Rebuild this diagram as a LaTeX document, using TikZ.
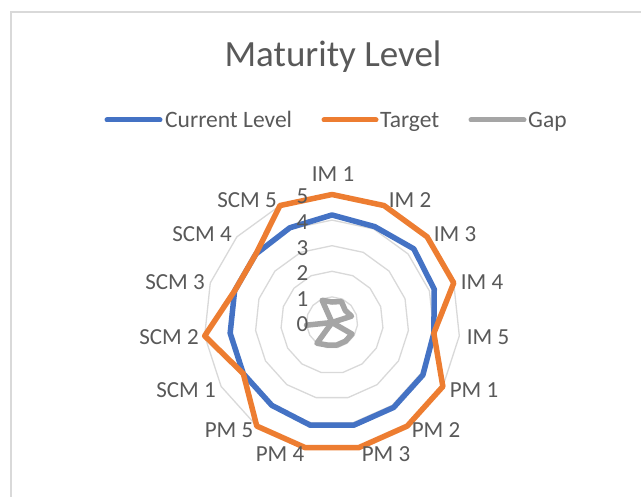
\documentclass[tikz,border=0pt]{standalone}
\usepackage{fontspec}
\setmainfont{Carlito}
\definecolor{txtgray}{HTML}{595959}
\definecolor{gridgray}{HTML}{D9D9D9}
\definecolor{serblue}{HTML}{4472C4}
\definecolor{serorange}{HTML}{ED7D31}
\definecolor{sergray}{HTML}{A5A5A5}
\tikzset{
  gridline/.style={draw=gridgray, line width=1.3pt},
  seriesline/.style={line width=5.5pt, line join=round, line cap=round},
  legline/.style={line width=5pt, line cap=round},
  axlabel/.style={anchor=base, text=txtgray, font=\fontsize{23}{27}\selectfont, inner sep=0pt},
  numlabel/.style={anchor=east, text=txtgray, font=\fontsize{23}{27}\selectfont, inner sep=0pt},
  legtext/.style={anchor=base west, text=txtgray, font=\fontsize{23.5}{28}\selectfont, inner sep=0pt},
}
\begin{document}
\begin{tikzpicture}[x=1pt,y=-1pt]
\useasboundingbox (0,0) rectangle (641,497);
\fill[white] (0,0) rectangle (641,497);
% chart border
\draw[gridgray, line width=2pt] (11,520) -- (11,12) -- (680,12);
% title
\node[text=txtgray, font=\fontsize{37}{43}\selectfont, anchor=base, inner sep=0pt] (title) at (333,67) {Maturity Level};
% legend
\coordinate (lb1) at (107,120); \coordinate (lb2) at (160,120);
\coordinate (lo1) at (324,120); \coordinate (lo2) at (376,120);
\coordinate (lg1) at (471,120); \coordinate (lg2) at (524,120);
\draw[legline, serblue] (lb1) -- (lb2);
\draw[legline, serorange] (lo1) -- (lo2);
\draw[legline, sergray] (lg1) -- (lg2);
\node[legtext] (tcur) at (165,127.5) {Current Level};
\node[legtext] (ttar) at (380,127.5) {Target};
\node[legtext] (tgap) at (528,127.5) {Gap};
% grid rings
\foreach \lv in {1,...,5}{
  \draw[gridline] (332,{322.5-25.6*\lv})
    \foreach \a in {24,48,...,336}{ -- ({332+25.6*\lv*sin(\a)},{322.5-25.6*\lv*cos(\a)}) } -- cycle;
}
% data points
\foreach \v [count=\i] in {4.2,4.1,4.3,4.2,4,4.1,4.1,4.1,4.1,4.0,4,4,4,4,4.05}
  \coordinate (c\i) at ({332+25.6*\v*sin(24*(\i-1))},{322.5-25.6*\v*cos(24*(\i-1))});
\foreach \v [count=\i] in {5,5,5,5,4,5,5,5,5,5,4,5,4,4,5}
  \coordinate (t\i) at ({332+25.6*\v*sin(24*(\i-1))},{322.5-25.6*\v*cos(24*(\i-1))});
\foreach \v [count=\i] in {0.8,0.9,0.7,0.8,0,0.9,0.9,0.9,0.9,1.0,0,1,0,0,0.95}
  \coordinate (g\i) at ({332+25.6*\v*sin(24*(\i-1))},{322.5-25.6*\v*cos(24*(\i-1))});
\draw[seriesline, serblue] (c1) -- (c2) -- (c3) -- (c4) -- (c5) -- (c6) -- (c7) -- (c8) -- (c9) -- (c10) -- (c11) -- (c12) -- (c13) -- (c14) -- (c15) -- cycle;
\draw[seriesline, serorange] (t1) -- (t2) -- (t3) -- (t4) -- (t5) -- (t6) -- (t7) -- (t8) -- (t9) -- (t10) -- (t11) -- (t12) -- (t13) -- (t14) -- (t15) -- cycle;
\draw[seriesline, sergray] (g1) -- (g2) -- (g3) -- (g4) -- (g5) -- (g6) -- (g7) -- (g8) -- (g9) -- (g10) -- (g11) -- (g12) -- (g13) -- (g14) -- (g15) -- cycle;
% value axis labels
\foreach \n in {0,...,5}
  \node[numlabel] (n\n) at (308.5,{324.5-25.6*\n}) {\n};
% category labels
\node[axlabel] (im1) at (333,182) {IM 1};
\node[axlabel] (im2) at (410,208) {IM 2};
\node[axlabel] (im3) at (455,242) {IM 3};
\node[axlabel] (im4) at (482,290) {IM 4};
\node[axlabel] (im5) at (488,345) {IM 5};
\node[axlabel] (pm1) at (474,398) {PM 1};
\node[axlabel] (pm2) at (436,438) {PM 2};
\node[axlabel] (pm3) at (386,462) {PM 3};
\node[axlabel] (pm4) at (280,462) {PM 4};
\node[axlabel] (pm5) at (229,438) {PM 5};
\node[axlabel] (scm1) at (186,398) {SCM 1};
\node[axlabel] (scm2) at (169,345) {SCM 2};
\node[axlabel] (scm3) at (175,290) {SCM 3};
\node[axlabel] (scm4) at (202,242) {SCM 4};
\node[axlabel] (scm5) at (247,208) {SCM 5};
\end{tikzpicture}
\end{document}
